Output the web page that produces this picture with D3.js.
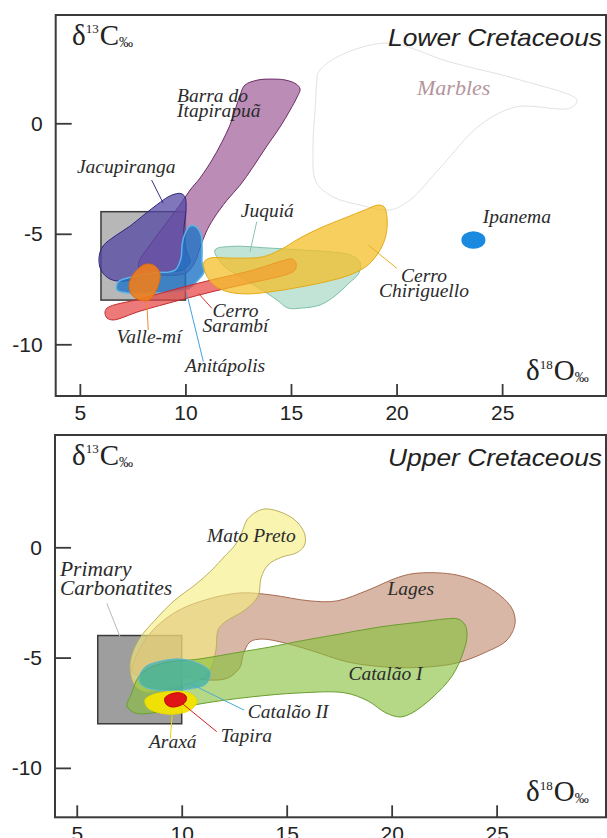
<!DOCTYPE html>
<html>
<head>
<meta charset="utf-8">
<script src="https://cdn.jsdelivr.net/npm/d3@7"></script>
<style>
  html, body { margin: 0; padding: 0; background: #fff; }
  svg { display: block; }
</style>
</head>
<body>
<svg id="chart" width="607" height="838"></svg>
<script>
// Axis ticks (δ18O on x, δ13C on y)
const xTicks = [5, 10, 15, 20, 25];
const yTicks = [0, -5, -10];

// Primary carbonatite box: [δ18O, δ13C] corners
const primaryBox = [[6, -4], [10, -8]];

// ---- Lower Cretaceous fields, [δ18O, δ13C] outline points ----
const marbles = [[16.28, 2.28], [17.09, 2.95], [19.55, 3.63], [22.53, 2.77], [25.85, 1.96], [28.55, 1.05],
  [28.22, 0.69], [25.66, 0.74], [23.96, -0.08], [22.06, -2.02], [20.64, -3.47], [19.69, -3.92],
  [18.27, -3.70], [16.99, -3.33], [16.19, -2.66], [16.04, -1.21], [16.14, 0.60], [16.23, 1.96]];

const barraDoItapirapua = [[12.82, 1.73], [13.44, 1.96], [14.01, 2.00], [14.72, 1.96], [15.24, 1.78], [15.43, 1.55],
  [15.29, 1.19], [14.96, 0.60], [14.48, -0.17], [13.82, -1.08], [13.20, -1.98], [12.59, -2.80],
  [11.97, -3.48], [11.35, -4.29], [10.98, -4.92], [10.69, -5.64], [10.45, -6.28], [10.03, -6.77],
  [8.80, -6.86], [7.85, -6.64], [7.80, -6.28], [8.32, -5.51], [9.03, -4.60], [9.74, -3.70],
  [10.22, -3.02], [10.69, -2.48], [11.26, -1.66], [11.73, -0.85], [12.11, -0.08], [12.40, 0.74], [12.59, 1.28]];

const jacupiranga = [[9.51, -3.20], [9.79, -3.18], [9.98, -3.33], [10.03, -3.92], [9.93, -4.83], [10.03, -5.73],
  [10.22, -6.28], [9.84, -6.64], [9.03, -6.73], [8.09, -6.86], [7.14, -7.14], [6.43, -7.05],
  [6.00, -6.64], [5.91, -6.05], [6.10, -5.55], [6.67, -5.10], [7.38, -4.65], [8.09, -4.10],
  [8.70, -3.65], [9.18, -3.33]];

const anitapolis = [[10.22, -4.65], [10.50, -4.69], [10.74, -5.05], [10.79, -5.73], [10.79, -6.32], [10.88, -6.73],
  [10.60, -7.09], [10.12, -7.50], [9.27, -7.63], [8.32, -7.68], [7.28, -7.68], [6.76, -7.54],
  [6.81, -7.18], [7.47, -6.95], [8.56, -6.77], [9.51, -6.64], [9.79, -6.10], [9.84, -5.51], [9.98, -4.99]];

const valleMi = [[8.32, -6.37], [8.61, -6.50], [8.80, -6.82], [8.75, -7.22], [8.56, -7.68], [8.28, -8.00],
  [7.85, -8.00], [7.47, -7.77], [7.33, -7.41], [7.42, -7.00], [7.71, -6.64], [7.99, -6.42]];

const cerroSarambi = [[6.29, -8.36], [7.85, -7.95], [9.74, -7.45], [11.40, -7.05], [13.06, -6.68], [14.72, -6.19],
  [15.05, -6.14], [15.24, -6.32], [15.19, -6.64], [14.86, -6.82], [13.06, -7.23], [11.40, -7.59],
  [9.74, -8.00], [7.85, -8.50], [6.57, -8.90], [6.29, -8.81], [6.19, -8.58]];

const juquia = [[11.40, -5.73], [12.21, -5.57], [13.87, -5.64], [15.43, -5.73], [16.85, -5.82], [17.80, -5.96],
  [18.27, -6.28], [18.22, -6.77], [17.70, -7.27], [17.09, -7.81], [16.38, -8.22], [15.52, -8.36],
  [14.86, -8.36], [14.34, -8.00], [13.63, -7.54], [12.59, -6.95], [11.73, -6.37]];

const cerroChiriguello = [[10.88, -6.28], [11.17, -6.10], [12.21, -6.10], [13.63, -6.05], [14.48, -5.73], [15.43, -5.19],
  [16.38, -4.74], [17.56, -4.28], [18.51, -3.92], [19.12, -3.70], [19.41, -3.78], [19.55, -4.28],
  [19.50, -5.05], [19.22, -5.73], [18.65, -6.41], [17.80, -6.86], [16.61, -7.18], [15.43, -7.41],
  [14.01, -7.63], [12.82, -7.72], [11.88, -7.59], [11.26, -7.23], [10.93, -6.73]];

// Ipanema: centre and half-widths
const ipanema = { o: 23.64, c: -5.28, ro: 0.57, rc: 0.40 };

// ---- Upper Cretaceous fields ----
const matoPreto = [[13.11, 1.24], [13.54, 1.60], [14.02, 1.74], [14.83, 1.55], [15.49, 1.15], [15.87, 0.56],
  [15.83, 0.06], [15.45, -0.26], [14.78, -0.44], [14.11, -0.80], [13.78, -1.39], [13.64, -2.21],
  [13.02, -2.84], [12.06, -3.39], [11.73, -3.75], [11.63, -4.66], [11.35, -5.56], [10.63, -6.11],
  [9.44, -6.38], [8.25, -6.56], [7.78, -6.29], [7.54, -5.56], [7.63, -4.88], [8.01, -4.11],
  [8.73, -3.30], [9.68, -2.39], [10.63, -1.71], [11.44, -1.03], [12.06, -0.39], [12.54, 0.10], [12.87, 0.69]];

const lages = [[7.63, -5.56], [8.35, -4.07], [9.63, -2.98], [11.11, -2.39], [12.78, -2.07], [14.25, -2.16],
  [16.11, -2.43], [17.40, -2.43], [18.88, -1.94], [20.35, -1.35], [21.26, -1.17], [23.12, -1.26],
  [24.59, -1.80], [25.69, -2.71], [25.88, -3.43], [25.50, -4.20], [24.40, -4.79], [23.12, -5.24],
  [21.64, -5.43], [19.78, -5.43], [17.92, -5.20], [16.11, -4.66], [14.92, -4.34], [13.83, -4.16],
  [13.25, -4.29], [12.92, -4.88], [12.78, -5.43], [12.21, -5.92], [11.30, -6.02], [10.20, -5.88],
  [8.73, -5.70], [7.82, -5.79]];

const catalaoI = [[7.39, -7.19], [7.58, -6.70], [8.01, -5.79], [8.97, -5.29], [10.87, -5.06], [12.78, -4.75],
  [14.21, -4.52], [15.64, -4.25], [17.54, -3.93], [19.45, -3.61], [21.35, -3.39], [22.54, -3.25],
  [23.16, -3.25], [23.50, -3.52], [23.59, -4.02], [23.40, -4.79], [22.88, -5.83], [21.92, -6.83],
  [20.97, -7.51], [20.40, -7.69], [19.73, -7.51], [18.88, -6.97], [17.78, -6.60], [15.64, -6.60],
  [13.25, -6.79], [10.87, -7.10], [8.97, -7.47], [7.78, -7.51]];

const catalaoII = [[7.97, -5.88], [8.25, -5.43], [8.82, -5.20], [9.92, -5.06], [10.87, -5.29], [11.35, -5.65],
  [11.16, -6.20], [10.40, -6.42], [9.30, -6.51], [8.35, -6.38], [8.01, -6.15]];

const araxa = [[8.25, -6.92], [8.58, -6.70], [9.20, -6.56], [10.06, -6.54], [10.59, -6.74], [10.73, -7.01],
  [10.40, -7.38], [9.68, -7.56], [8.97, -7.51], [8.39, -7.28]];

const tapira = [[9.20, -6.83], [9.49, -6.65], [9.92, -6.60], [10.20, -6.74], [10.20, -6.97], [9.97, -7.15],
  [9.54, -7.24], [9.25, -7.10]];

// ---------------------------------------------------------------------------
const svg = d3.select("#chart");
svg.append("rect").attr("width", 607).attr("height", 838).attr("fill", "#fff");

const SERIF = "'Liberation Serif', 'Times New Roman', serif";
const SANS = "'Liberation Sans', Arial, Helvetica, sans-serif";
const INK = "#2b2b2b";

const panels = [
  {
    title: "Lower Cretaceous",
    left: 55.7, right: 606, top: 15, bottom: 396,
    xDomain: [3.856, 29.92], yDomain: [-12.34, 4.90],
    boxFill: "#b7b7b7",
    fields: [
      { d: marbles, fill: "none", op: 0, stroke: "#e2e2e2", sw: 1 },
      { d: juquia, fill: "#a6d8c6", op: 0.7, stroke: "#7fc0aa", sw: 1 },
      { d: barraDoItapirapua, fill: "#a0609a", op: 0.72, stroke: "#6c2e66", sw: 1 },
      { d: jacupiranga, fill: "#5246a4", op: 0.74, stroke: "#30257c", sw: 1 },
      { d: anitapolis, fill: "#1f74c6", op: 0.8, stroke: "#58b4ea", sw: 1.5 },
      { d: cerroSarambi, fill: "#e84545", op: 0.72, stroke: "#c42a2a", sw: 1 },
      { d: cerroChiriguello, fill: "#f4bf28", op: 0.75, stroke: "#e3ab18", sw: 1 },
      { d: valleMi, fill: "#ee7d1c", op: 0.9, stroke: "#e06c10", sw: 1 }
    ],
    labels: [
      { t: ["Barra do", "Itapirapuã"], o: 9.60, c: 0.98, a: "start" },
      { t: ["Marbles"], o: 20.97, c: 1.28, a: "start", color: "#b3959c", size: 22 },
      { t: ["Jacupiranga"], o: 4.86, c: -2.25, a: "start" },
      { t: ["Juquiá"], o: 12.62, c: -4.23, a: "start" },
      { t: ["Ipanema"], o: 24.08, c: -4.51, a: "start" },
      { t: ["Cerro", "Chiriguello"], o: 21.30, c: -7.17, a: "middle" },
      { t: ["Cerro", "Sarambí"], o: 12.37, c: -8.75, a: "middle" },
      { t: ["Valle-mí"], o: 6.74, c: -9.94, a: "start" },
      { t: ["Anitápolis"], o: 9.98, c: -11.24, a: "start" }
    ],
    leaders: [
      { p: [[8.40, -2.57], [8.95, -3.62]], color: "#3a2f86" },
      { p: [[13.38, -4.45], [13.06, -5.81]], color: "#86c4b0" },
      { p: [[18.66, -5.51], [20.01, -6.56]], color: "#e5b020" },
      { p: [[10.61, -7.69], [11.25, -8.37]], color: "#d03a3a" },
      { p: [[8.17, -8.07], [8.24, -9.35]], color: "#ee8a30" },
      { p: [[10.06, -7.69], [10.85, -10.79]], color: "#3fa2e0" }
    ]
  },
  {
    title: "Upper Cretaceous",
    left: 55, right: 606, top: 435, bottom: 817.3,
    xDomain: [3.964, 30.21], yDomain: [-12.24, 5.09],
    boxFill: "#9e9e9e",
    fields: [
      { d: lages, fill: "#b87c5c", op: 0.55, stroke: "#a86c52", sw: 1 },
      { d: matoPreto, fill: "#f6ee80", op: 0.62, stroke: "#bdb060", sw: 1 },
      { d: catalaoI, fill: "#86c03a", op: 0.62, stroke: "#6b9e30", sw: 1 },
      { d: catalaoII, fill: "#3cb0a8", op: 0.75, stroke: "#62b8d0", sw: 1 },
      { d: araxa, fill: "#f5e400", op: 0.95, stroke: "#eadb00", sw: 1 },
      { d: tapira, fill: "#e01515", op: 1, stroke: "#c40000", sw: 1 }
    ],
    labels: [
      { t: ["Mato Preto"], o: 11.21, c: 0.25, a: "start" },
      { t: ["Primary", "Carbonatites"], o: 4.20, c: -1.30, a: "start", size: 21.5, lead: 19 },
      { t: ["Lages"], o: 19.80, c: -2.16, a: "start" },
      { t: ["Catalão I"], o: 17.94, c: -6.02, a: "start" },
      { t: ["Catalão II"], o: 13.15, c: -7.75, a: "start" },
      { t: ["Tapira"], o: 11.86, c: -8.81, a: "start" },
      { t: ["Araxá"], o: 8.44, c: -9.11, a: "start" }
    ],
    leaders: [
      { p: [[6.43, -2.54], [7.06, -4.05]], color: "#b8b8b8" },
      { p: [[10.38, -6.17], [12.97, -7.38]], color: "#4aaed0" },
      { p: [[10.01, -7.07], [11.67, -8.36]], color: "#d02020" },
      { p: [[9.55, -7.53], [9.46, -8.66]], color: "#e8d800" }
    ]
  }
];

panels.forEach(p => {
  const x = d3.scaleLinear().domain(p.xDomain).range([p.left, p.right]);
  const y = d3.scaleLinear().domain(p.yDomain).range([p.bottom, p.top]);
  const g = svg.append("g");

  // primary carbonatite box
  const [b0, b1] = primaryBox;
  g.append("rect")
    .attr("x", x(b0[0])).attr("y", y(b0[1]))
    .attr("width", x(b1[0]) - x(b0[0])).attr("height", y(b1[1]) - y(b0[1]))
    .attr("fill", p.boxFill).attr("stroke", "#3a3a3a").attr("stroke-width", 1.5);

  // isotope fields
  const outline = d3.line()
    .x(d => x(d[0])).y(d => y(d[1]))
    .curve(d3.curveCatmullRomClosed.alpha(0.5));

  p.fields.forEach(f => {
    g.append("path")
      .attr("d", outline(f.d))
      .attr("fill", f.fill)
      .attr("fill-opacity", f.op)
      .attr("stroke", f.stroke)
      .attr("stroke-width", f.sw)
      .attr("stroke-linejoin", "round");
  });

  if (p.title === "Lower Cretaceous") {
    g.append("ellipse")
      .attr("cx", x(ipanema.o)).attr("cy", y(ipanema.c))
      .attr("rx", x(ipanema.o + ipanema.ro) - x(ipanema.o))
      .attr("ry", y(ipanema.c - ipanema.rc) - y(ipanema.c))
      .attr("fill", "#1a8ae0");
  }

  // leader lines
  p.leaders.forEach(l => {
    g.append("line")
      .attr("x1", x(l.p[0][0])).attr("y1", y(l.p[0][1]))
      .attr("x2", x(l.p[1][0])).attr("y2", y(l.p[1][1]))
      .attr("stroke", l.color).attr("stroke-width", 1);
  });

  // field names
  p.labels.forEach(l => {
    const size = l.size || 19.5;
    const lead = l.lead || 15;
    const txt = g.append("text")
      .attr("x", x(l.o)).attr("y", y(l.c))
      .attr("text-anchor", l.a)
      .attr("font-family", SERIF).attr("font-style", "italic")
      .attr("font-size", size)
      .attr("fill", l.color || INK);
    l.t.forEach((line, i) => {
      txt.append("tspan").attr("x", x(l.o)).attr("dy", i === 0 ? 0 : lead).text(line);
    });
  });

  // frame
  g.append("rect")
    .attr("x", p.left).attr("y", p.top)
    .attr("width", p.right - p.left).attr("height", p.bottom - p.top)
    .attr("fill", "none").attr("stroke", "#3a3a3a").attr("stroke-width", 2);

  // axes with inward ticks
  const xAxis = d3.axisBottom(x).tickValues(xTicks).tickSizeInner(-12).tickSizeOuter(0)
    .tickPadding(9).tickFormat(d => String(d));
  const gx = g.append("g").attr("transform", `translate(0,${p.bottom})`).call(xAxis);
  const yAxis = d3.axisLeft(y).tickValues(yTicks).tickSizeInner(-16).tickSizeOuter(0)
    .tickPadding(13).tickFormat(d => String(d));
  const gy = g.append("g").attr("transform", `translate(${p.left},0)`).call(yAxis);
  [gx, gy].forEach(a => {
    a.select(".domain").remove();
    a.selectAll(".tick line").attr("stroke", "#3a3a3a").attr("stroke-width", 1.8);
    a.selectAll(".tick text").attr("font-family", SANS).attr("font-size", 21).attr("fill", "#222");
  });

  // panel title
  g.append("text")
    .attr("x", 602).attr("y", p.top + 31)
    .attr("text-anchor", "end")
    .attr("font-family", SANS).attr("font-style", "italic").attr("font-size", 24)
    .attr("textLength", 214).attr("lengthAdjust", "spacingAndGlyphs")
    .attr("fill", "#222")
    .text(p.title);

  // axis names δ13C‰ and δ18O‰
  const axisName = (x0, y0, sup, letter) => {
    const t = g.append("text").attr("x", x0).attr("y", y0)
      .attr("font-family", SERIF).attr("fill", "#222");
    t.append("tspan").attr("font-size", 29).text("δ");
    t.append("tspan").attr("font-size", 13).attr("dy", -11.5).text(sup);
    t.append("tspan").attr("font-size", 29).attr("dx", 1).attr("dy", 11.5).text(letter);
    t.append("tspan").attr("font-size", 14).attr("dy", 2).text("‰");
  };
  axisName(72, p.top + 29.5, "13", "C");
  axisName(526, p.bottom - 16, "18", "O");
});
</script>
</body>
</html>
